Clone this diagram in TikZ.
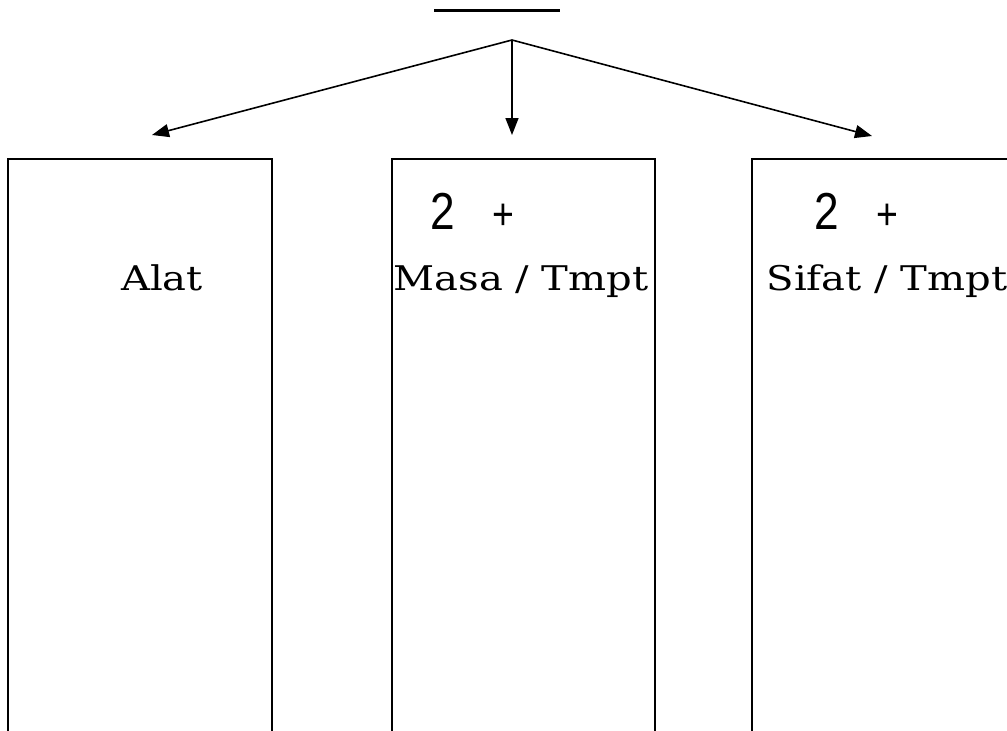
\documentclass[tikz,border=0pt]{standalone}
\usepackage{fontspec}
\setmainfont{DejaVu Serif}[FakeStretch=1.18]
\newfontfamily\numfont{Liberation Sans}[FakeStretch=0.85]
\usetikzlibrary{arrows.meta}
\begin{document}
\begin{tikzpicture}[x=1pt,y=-1pt,
  boxline/.style={line width=1.4pt},
  arr/.style={line width=1.6pt,-{Triangle[length=17pt,width=13pt]}},
  lbl/.style={font=\fontsize{34}{40}\selectfont, anchor=base, inner sep=0pt},
  num/.style={font=\numfont\fontsize{52}{60}\selectfont, anchor=base, inner sep=0pt},
  plus/.style={font=\numfont\fontsize{44}{50}\selectfont, anchor=center, inner sep=0pt}]
\useasboundingbox (0,0) rectangle (1007,731);
\clip (0,0) rectangle (1007,731);
% title underline
\coordinate (ulA) at (434,10);
\coordinate (ulB) at (560,10);
\draw[line width=3pt] (ulA) -- (ulB);
% apex and arrow targets
\coordinate (apex) at (512,40);
\coordinate (tL) at (152,135);
\coordinate (tM) at (512,135);
\coordinate (tR) at (872,136);
\draw[arr] (apex) -- (tL);
\draw[arr] (apex) -- (tM);
\draw[arr] (apex) -- (tR);
% boxes (open at the bottom)
\draw[boxline] (8,735) -- (8,159) -- (272,159) -- (272,735);
\draw[boxline] (392,735) -- (392,159) -- (655,159) -- (655,735);
\draw[boxline] (752,735) -- (752,159) -- (1012,159);
% texts
\node[lbl] (alat) at (162,290) {Alat};
\node[lbl] (masa) at (521,290) {Masa / Tmpt};
\node[lbl] (sifat) at (887,290) {Sifat / Tmpt};
\node[num] (twoM) at (442.5,229) {2};
\node[plus] (plusM) at (503,216.5) {+};
\node[num] (twoR) at (827,229) {2};
\node[plus] (plusR) at (887,216.5) {+};
\end{tikzpicture}
\end{document}
